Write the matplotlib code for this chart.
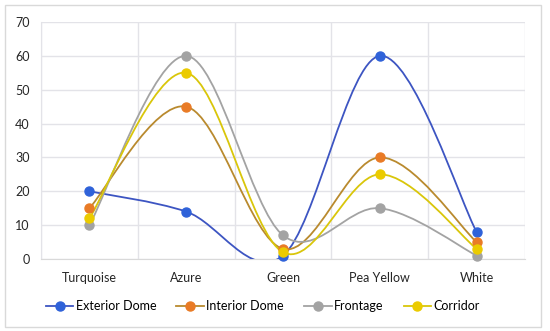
import numpy as np
import matplotlib.pyplot as plt
from matplotlib.path import Path
from matplotlib.patches import PathPatch
from matplotlib.lines import Line2D

plt.rcParams['font.family'] = ['Lato', 'DejaVu Sans']

# data
categories = ['Turquoise', 'Azure', 'Green', 'Pea Yellow', 'White']
exterior_dome = [20, 14, 1, 60, 8]
interior_dome = [15, 45, 3, 30, 5]
frontage = [10, 60, 7, 15, 1]
corridor = [12, 55, 2, 25, 3]

series = [
    ('Exterior Dome', exterior_dome, '#3D55C2', '#2F62D9'),
    ('Interior Dome', interior_dome, '#B98A2E', '#E97B26'),
    ('Frontage', frontage, '#A3A3A3', '#A3A3A3'),
    ('Corridor', corridor, '#D9C60A', '#EBCB00'),
]


def smooth_path(xs, ys):
    # Excel-style smoothed line: cubic bezier with catmull-rom control points
    pts = np.column_stack([xs, ys]).astype(float)
    n = len(pts)
    verts = [pts[0]]
    codes = [Path.MOVETO]
    for i in range(n - 1):
        p0 = pts[i - 1] if i > 0 else pts[i]
        p1 = pts[i]
        p2 = pts[i + 1]
        p3 = pts[i + 2] if i + 2 < n else pts[i + 1]
        c1 = p1 + (p2 - p0) / 6
        c2 = p2 - (p3 - p1) / 6
        verts += [c1, c2, p2]
        codes += [Path.CURVE4] * 3
    return Path(verts, codes)


fig = plt.figure(figsize=(5.5, 3.31), dpi=100)
ax = fig.add_axes([41 / 550, 1 - 259 / 331, 484 / 550, 237 / 331])

x = np.arange(len(categories))
handles = []
for name, vals, lc, mc in series:
    patch = PathPatch(smooth_path(x, vals), facecolor='none', edgecolor=lc,
                      lw=1.3, zorder=3, clip_on=True)
    ax.add_patch(patch)
    ax.plot(x, vals, ls='none', marker='o', ms=6.5, color=mc, zorder=4,
            clip_on=False)
    handles.append(Line2D([], [], color=lc, lw=1.3, marker='o', ms=6.5,
                          markerfacecolor=mc, markeredgecolor=mc, label=name))

ax.set_xlim(-0.5, len(categories) - 0.5)
ax.set_ylim(0, 70)
ax.set_yticks(range(0, 71, 10))
ax.set_xticks(x)
ax.set_xticklabels(categories)
ax.set_xticks(np.arange(-0.5, len(categories), 1), minor=True)
ax.grid(True, axis='y', color='#E3E3E8', lw=1)
ax.grid(True, axis='x', which='minor', color='#E3E3E8', lw=1)
ax.set_axisbelow(True)
for s in ['top', 'right']:
    ax.spines[s].set_visible(False)
ax.spines['left'].set_color('#E3E3E8')
ax.spines['bottom'].set_color('#D9D9D9')
ax.tick_params(axis='both', which='both', length=0, labelsize=9,
               colors='#262626')
ax.tick_params(axis='x', pad=9)
ax.tick_params(axis='y', pad=8)

fig.legend(handles=handles, loc='center', bbox_to_anchor=(0.478, 1 - 306 / 331),
           ncol=4, frameon=False, fontsize=9, handlelength=2.2,
           columnspacing=1.6, handletextpad=0.2)

# outer chart border
fig.patches.append(plt.Rectangle((5 / 550, 4 / 331), 536 / 550, 322 / 331,
                                 transform=fig.transFigure, fill=False,
                                 edgecolor='#D9D9D9', lw=1))

fig.savefig('out.png', dpi=100)
